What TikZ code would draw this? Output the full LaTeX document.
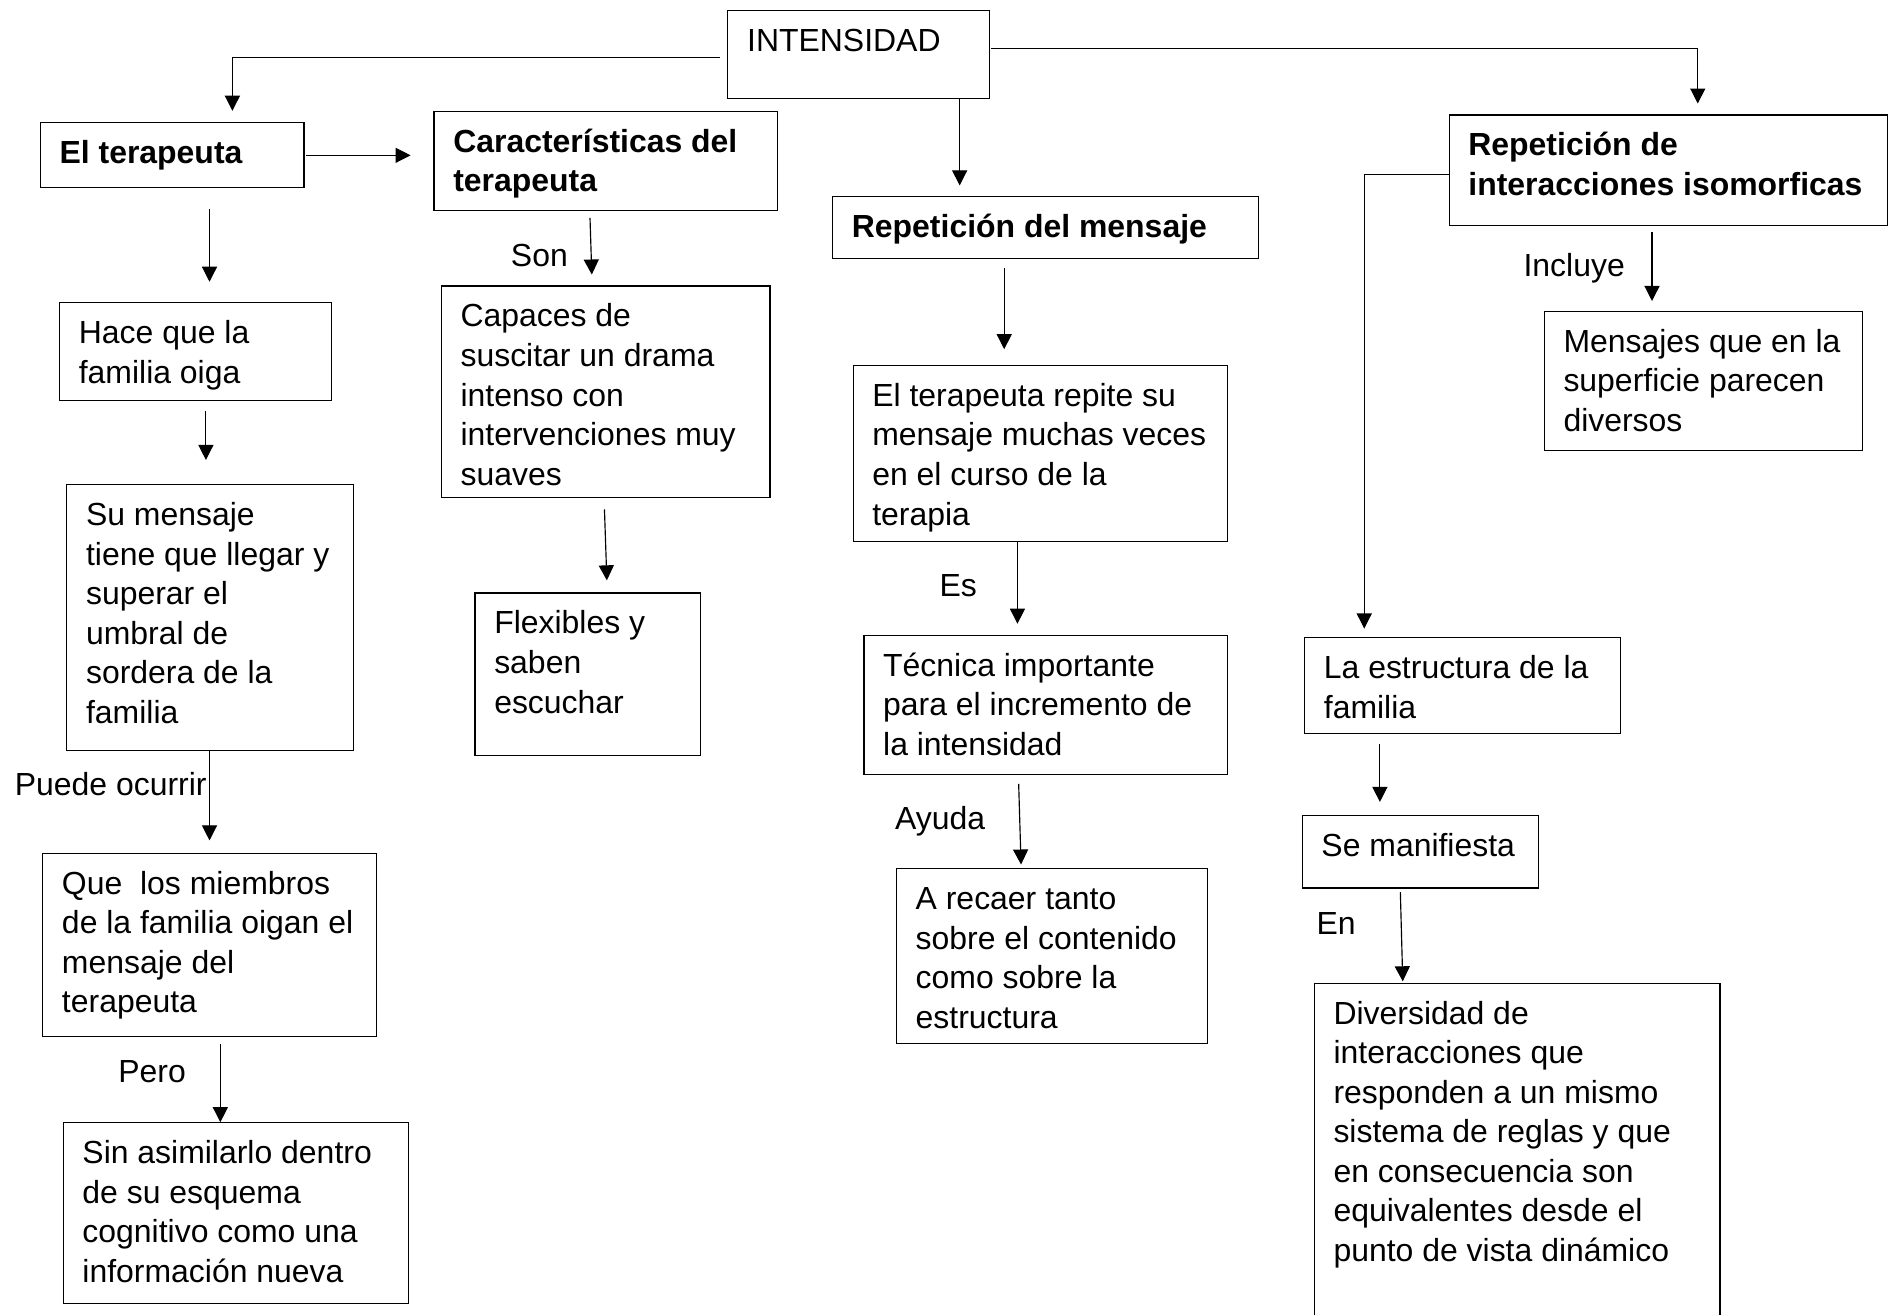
\documentclass[tikz,border=0pt]{standalone}
\usepackage{fontspec}
\setmainfont{Liberation Sans}
\usetikzlibrary{arrows.meta}
\newlength\px
\setlength\px{0.02cm}
\newcommand{\contenido}[3]{\parbox[t][#2\px][t]{#1\px}{\vspace*{11\px}\raggedright\leftskip=16\px\strut#3}}
\tikzstyle{caja}=[draw, line width=0.55pt, inner sep=0pt, anchor=north west]
\tikzstyle{rotulo}=[inner sep=0pt, anchor=base west]
\tikzstyle{flecha}=[line width=0.55pt, -{Triangle[length=0.25cm, width=0.25cm]}]

\begin{document}
\begin{tikzpicture}[x=0.02cm, y=-0.02cm, font=\fontsize{15.1}{18.7}\selectfont]
          \clip (0,0) rectangle (1568,1092);
          % cajas
          \node[caja] (int) at (604,8) {\contenido{217}{73}{INTENSIDAD}};
          \node[caja] (terap) at (33,101) {\contenido{219}{54}{\textbf{El terapeuta}}};
          \node[caja] (carac) at (360,92) {\contenido{285}{82}{\textbf{Características del\\terapeuta}}};
          \node[caja] (repmen) at (691,163) {\contenido{354}{51}{\textbf{Repetición del mensaje}}};
          \node[caja] (repiso) at (1203,95) {\contenido{364}{92}{\textbf{Repetición de\\interacciones isomorficas}}};
          \node[caja] (hace) at (49,251) {\contenido{226}{81}{Hace que la\\familia oiga}};
          \node[caja] (sumen) at (55,402) {\contenido{238}{221}{Su mensaje\\tiene que llegar y\\superar el\\umbral de\\sordera de la\\familia}};
          \node[caja] (que) at (35,708) {\contenido{277}{152}{Que\ \ los miembros\\de la familia oigan el\\mensaje del\\terapeuta}};
          \node[caja] (sin) at (52,932) {\contenido{287}{150}{Sin asimilarlo dentro\\de su esquema\\cognitivo como una\\información nueva}};
          \node[caja] (capaces) at (366,237) {\contenido{273}{176}{Capaces de\\suscitar un drama\\intenso con\\intervenciones muy\\suaves}};
          \node[caja] (flex) at (394,492) {\contenido{187}{135}{Flexibles y\\saben\\escuchar}};
          \node[caja] (repite) at (708,303) {\contenido{311}{146}{El terapeuta repite su\\mensaje muchas veces\\en el curso de la\\terapia}};
          \node[caja] (tecnica) at (717,527) {\contenido{302}{116}{Técnica importante\\para el incremento de\\la intensidad}};
          \node[caja] (recaer) at (744,721) {\contenido{258}{145}{A recaer tanto\\sobre el contenido\\como sobre la\\estructura}};
          \node[caja] (mensajes) at (1282,258) {\contenido{264}{116}{Mensajes que en la\\superficie parecen\\diversos}};
          \node[caja] (estruct) at (1083,529) {\contenido{262}{80}{La estructura de la\\familia}};
          \node[caja] (manif) at (1081,677) {\contenido{196}{60}{Se manifiesta}};
          \node[caja] (divers) at (1091,816) {\contenido{337}{284}{Diversidad de\\interacciones que\\responden a un mismo\\sistema de reglas y que\\en consecuencia son\\equivalentes desde el\\punto de vista dinámico}};
          % rotulos
          \node[rotulo] (son) at (424,221) {Son};
          \node[rotulo] (puede) at (12,661) {Puede ocurrir};
          \node[rotulo] (pero) at (98,899) {Pero};
          \node[rotulo] (es) at (780,495) {Es};
          \node[rotulo] (ayuda) at (743,689) {Ayuda};
          \node[rotulo] (incluye) at (1265,230) {Incluye};
          \node[rotulo] (en) at (1093,776) {En};
          % flechas
          \draw[flecha] ([shift={(-6,40)}]int.north west) -| ([shift={(160,-9)}]terap.north west);
          \draw[flecha] ([shift={(1,32)}]int.north east) -| ([shift={(207,-9)}]repiso.north west);
          \draw[flecha] ([shift={(193,0)}]int.south west) -- ([shift={(106,-9)}]repmen.north west);
          \draw[flecha] ([shift={(1,28)}]terap.north east) -- ([shift={(-19,37)}]carac.north west);
          \draw[flecha] ([shift={(141,18)}]terap.south west) -- ([shift={(125,-17)}]hace.north west);
          \draw[flecha] ([shift={(122,8)}]hace.south west) -- ([shift={(116,-20)}]sumen.north west);
          \draw[flecha] ([shift={(119,0)}]sumen.south west) -- ([shift={(139,-10)}]que.north west);
          \draw[flecha] ([shift={(148,6)}]que.south west) -- ([shift={(131,0)}]sin.north west);
          \draw[flecha] ([shift={(130,6)}]carac.south west) -- ([shift={(125.5,-9)}]capaces.north west);
          \draw[flecha] ([shift={(136,9)}]capaces.south west) -- ([shift={(110,-10)}]flex.north west);
          \draw[flecha] ([shift={(143,8)}]repmen.south west) -- ([shift={(126,-13)}]repite.north west);
          \draw[flecha] ([shift={(137,0)}]repite.south west) -- ([shift={(128,-9)}]tecnica.north west);
          \draw[flecha] ([shift={(129,7)}]tecnica.south west) -- ([shift={(104,-3)}]recaer.north west);
          \draw[flecha] ([shift={(0,50)}]repiso.north west) -| ([shift={(50,-7)}]estruct.north west);
          \draw[flecha] ([shift={(169,5)}]repiso.south west) -- ([shift={(90,-8)}]mensajes.north west);
          \draw[flecha] ([shift={(63,8)}]estruct.south west) -- ([shift={(65,-11)}]manif.north west);
          \draw[flecha] ([shift={(82,3)}]manif.south west) -- ([shift={(74,-1)}]divers.north west);
        \end{tikzpicture}
\end{document}
